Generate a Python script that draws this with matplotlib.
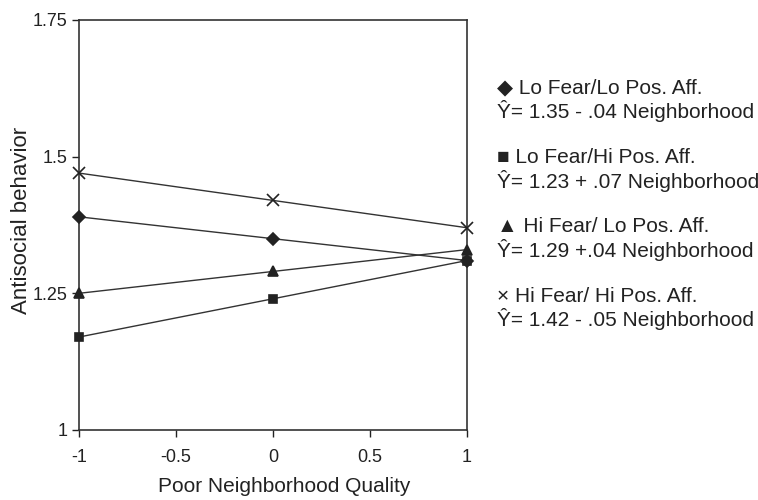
import matplotlib.pyplot as plt

plt.rcParams['font.family'] = ['Liberation Sans', 'DejaVu Sans']

neighborhood = [-1, 0, 1]
lo_fear_lo_pos = [1.39, 1.35, 1.31]
lo_fear_hi_pos = [1.17, 1.24, 1.31]
hi_fear_lo_pos = [1.25, 1.29, 1.33]
hi_fear_hi_pos = [1.47, 1.42, 1.37]

x_ticks = [-1, -0.5, 0, 0.5, 1]
x_tick_labels = ['-1', '-0.5', '0', '0.5', '1']
y_ticks = [1, 1.25, 1.5, 1.75]
y_tick_labels = ['1', '1.25', '1.5', '1.75']

legend_symbols = ['\u25c6', '\u25a0', '\u25b2', '\u00d7']
legend_titles = ['Lo Fear/Lo Pos. Aff.', 'Lo Fear/Hi Pos. Aff.',
                 'Hi Fear/ Lo Pos. Aff.', 'Hi Fear/ Hi Pos. Aff.']
legend_equations = ['\u0176= 1.35 - .04 Neighborhood', '\u0176= 1.23 + .07 Neighborhood',
                    '\u0176= 1.29 +.04 Neighborhood', '\u0176= 1.42 - .05 Neighborhood']

fig = plt.figure(figsize=(7.58, 5), dpi=100)
ax = fig.add_axes([0.104, 0.14, 0.512, 0.82])

line_color = '#333333'
series = [(lo_fear_lo_pos, 'D', 6), (lo_fear_hi_pos, 's', 5.5),
          (hi_fear_lo_pos, '^', 7), (hi_fear_hi_pos, 'x', 8)]
for values, marker, size in series:
    ax.plot(neighborhood, values, color=line_color, linewidth=1,
            marker=marker, markersize=size, markerfacecolor='#222222',
            markeredgecolor='#222222', markeredgewidth=1.2, clip_on=False, zorder=3)

ax.set_xlim(-1, 1)
ax.set_ylim(1, 1.75)
ax.set_xticks(x_ticks)
ax.set_xticklabels(x_tick_labels)
ax.set_yticks(y_ticks)
ax.set_yticklabels(y_tick_labels)
ax.tick_params(direction='out', length=5, width=1, colors='#222222', labelsize=13)
ax.tick_params(axis='x', pad=9)
ax.tick_params(axis='y', pad=3)
for spine in ax.spines.values():
    spine.set_color('#333333')
    spine.set_linewidth(1.2)

ax.set_xlabel('Poor Neighborhood Quality', fontsize=15, color='#222222')
ax.set_ylabel('Antisocial behavior', fontsize=16, color='#222222')
ax.xaxis.set_label_coords(0.528, -0.115)
ax.yaxis.set_label_coords(-0.121, 0.51)

# legend block on the right, written as plain text
y_start = 1 - 88 / 500
for i in range(4):
    y = y_start - i * 0.139
    fig.text(497 / 758, y, legend_symbols[i] + ' ' + legend_titles[i], fontsize=15,
             color='#222222', va='center', ha='left')
    fig.text(497 / 758, y - 0.046, legend_equations[i], fontsize=15,
             color='#222222', va='center', ha='left')

fig.savefig('out.png', dpi=100)
